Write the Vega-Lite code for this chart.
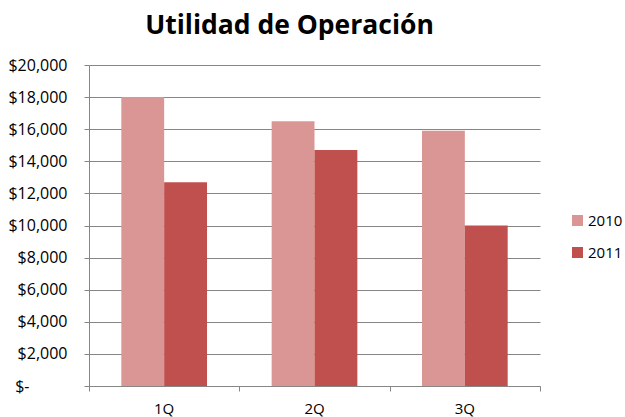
{
  "$schema": "https://vega.github.io/schema/vega-lite/v6.json",
  "width": 451,
  "height": 321,
  "autosize": {"type": "none"},
  "padding": {"left": 89, "top": 65, "right": 85, "bottom": 31},
  "background": "white",
  "config": {
    "view": {"stroke": null},
    "font": "Open Sans"
  },
  "title": {
    "text": "Utilidad de Operación",
    "font": "Open Sans",
    "fontSize": 26.5,
    "fontWeight": "bold",
    "color": "#000000",
    "anchor": "middle",
    "baseline": "alphabetic",
    "offset": 28,
    "dx": -25,
    "dy": 31
  },
  "data": {
    "values": [
      {"quarter": "1Q", "year": "2010", "value": 18000},
      {"quarter": "1Q", "year": "2011", "value": 12700},
      {"quarter": "2Q", "year": "2010", "value": 16500},
      {"quarter": "2Q", "year": "2011", "value": 14700},
      {"quarter": "3Q", "year": "2010", "value": 15900},
      {"quarter": "3Q", "year": "2011", "value": 10000}
    ]
  },
  "layer": [
    {
      "mark": {"type": "bar"},
      "encoding": {
        "x": {
          "field": "quarter",
          "type": "nominal",
          "scale": {"paddingInner": 0.43, "paddingOuter": 0.215},
          "axis": {
            "orient": "bottom",
            "title": null,
            "labelAngle": 0,
            "ticks": false,
            "domain": false,
            "labelFont": "Open Sans",
            "labelFontSize": 15,
            "labelColor": "#000000",
            "labelPadding": 15
          }
        },
        "xOffset": {"field": "year", "type": "nominal"},
        "y": {
          "field": "value",
          "type": "quantitative",
          "scale": {"domain": [0, 20000]},
          "axis": {
            "title": null,
            "values": [0, 2000, 4000, 6000, 8000, 10000, 12000, 14000, 16000, 18000, 20000],
            "labelExpr": "datum.value == 0 ? '$-' : '$' + format(datum.value, ',')",
            "labelFont": "Open Sans",
            "labelFontSize": 16,
            "labelColor": "#000000",
            "labelPadding": {"condition": {"test": "datum.value == 0", "value": 55}, "value": 17},
            "tickSize": 5,
            "tickColor": "#868686",
            "domainColor": "#868686",
            "gridColor": "#868686",
            "gridOpacity": 1,
            "grid": true
          }
        },
        "color": {
          "field": "year",
          "type": "nominal",
          "scale": {"domain": ["2010", "2011"], "range": ["#D99694", "#C0504D"]},
          "legend": {
            "title": null,
            "orient": "none",
            "legendX": 481,
            "legendY": 148,
            "symbolType": "square",
            "symbolSize": 121,
            "symbolStrokeWidth": 0,
            "labelFont": "Open Sans",
            "labelFontSize": 15,
            "labelColor": "#000000",
            "rowPadding": 16,
            "labelOffset": 3
          }
        }
      }
    },
    {
      "mark": {"type": "rule", "opacity": 0},
      "encoding": {
        "x": {
          "field": "pos",
          "type": "quantitative",
          "scale": {"domain": [0, 3], "nice": false, "zero": false},
          "axis": {
            "orient": "bottom",
            "title": null,
            "values": [0, 1, 2, 3],
            "labels": false,
            "grid": false,
            "domain": true,
            "domainColor": "#868686",
            "ticks": true,
            "tickSize": 5,
            "tickColor": "#868686"
          }
        }
      },
      "data": {"values": [{"pos": 0}, {"pos": 3}]}
    }
  ],
  "resolve": {"scale": {"x": "independent"}, "axis": {"x": "independent"}}
}
